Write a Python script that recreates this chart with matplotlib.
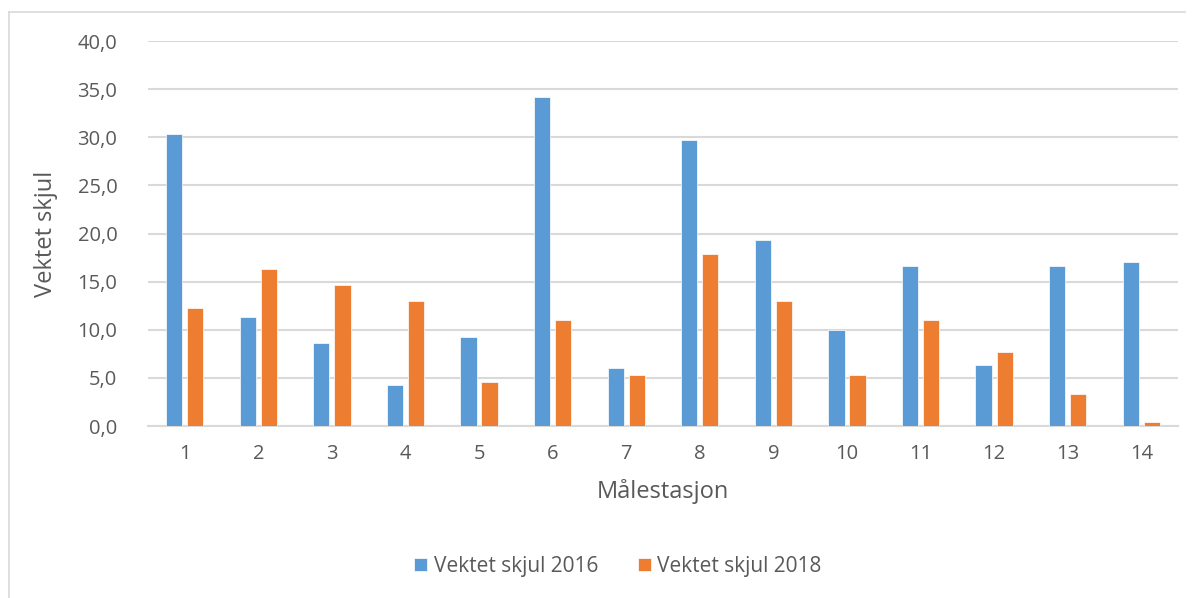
import numpy as np
import matplotlib
matplotlib.use("Agg")
import matplotlib.pyplot as plt
from matplotlib.ticker import FuncFormatter

stations = [str(i) for i in range(1, 15)]
skjul_2016 = [30.3, 11.3, 8.6, 4.3, 9.3, 34.2, 6.0, 29.7, 19.3, 10.0, 16.6, 6.3, 16.6, 17.0]
skjul_2018 = [12.3, 16.3, 14.6, 13.0, 4.6, 11.0, 5.3, 17.9, 13.0, 5.3, 11.0, 7.7, 3.3, 0.4]
y_ticks = [0, 5, 10, 15, 20, 25, 30, 35, 40]

blue = "#5B9BD5"
orange = "#ED7D31"
grid_col = "#D9D9D9"
text_col = "#595959"

plt.rcParams["font.family"] = ["Open Sans", "DejaVu Sans"]

fig = plt.figure(figsize=(11.95, 5.98), dpi=100)
ax = fig.add_axes([0.1238, 0.2876, 0.862, 0.6438])

x = np.arange(len(stations))
w = 0.22
ax.bar(x - 0.143, skjul_2016, w, color=blue, edgecolor="white", linewidth=0.5,
       label="Vektet skjul 2016", zorder=3)
ax.bar(x + 0.143, skjul_2018, w, color=orange, edgecolor="white", linewidth=0.5,
       label="Vektet skjul 2018", zorder=3)

ax.set_xlim(-0.5, len(stations) - 0.5)
ax.set_ylim(0, 40)
ax.set_yticks(y_ticks)
ax.yaxis.set_major_formatter(FuncFormatter(lambda v, p: f"{v:.1f}".replace(".", ",")))
ax.set_xticks(x)
ax.set_xticklabels(stations)
ax.grid(axis="y", color=grid_col, linewidth=1.5, zorder=0)
for s in ["top", "right", "left"]:
    ax.spines[s].set_visible(False)
ax.spines["bottom"].set_color(grid_col)
ax.spines["bottom"].set_linewidth(1.5)
ax.tick_params(axis="both", length=0, labelsize=14.5, colors=text_col)
ax.tick_params(axis="y", pad=22)
ax.tick_params(axis="x", pad=13)

ax.set_ylabel("Vektet skjul", fontsize=17, color=text_col, labelpad=14)
ax.set_xlabel("Målestasjon", fontsize=17, color=text_col, labelpad=11)

leg = fig.legend(loc="center", bbox_to_anchor=(0.517, 0.053), ncol=2, frameon=False,
                 fontsize=15, handlelength=0.65, handleheight=0.65, handletextpad=0.3,
                 columnspacing=1.9)
for t in leg.get_texts():
    t.set_color(text_col)

# outer chart frame (left and top edges visible)
fig.add_artist(plt.Line2D([0.0075, 0.0075], [0.0, 0.98], color=grid_col, linewidth=1.2))
fig.add_artist(plt.Line2D([0.0075, 0.992], [0.98, 0.98], color=grid_col, linewidth=1.2))

fig.savefig("out.png", dpi=100)
